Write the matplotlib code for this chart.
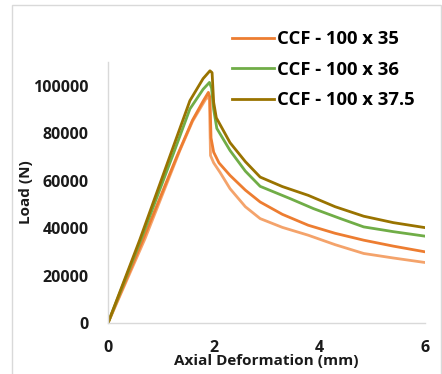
import numpy as np
import matplotlib
matplotlib.use('Agg')
from matplotlib import pyplot as plt
from matplotlib.patches import Rectangle

# values (axial deformation in mm, load in N)
x_35a = [0, 0.65, 1.3, 1.6, 1.8, 1.90, 1.93, 1.95, 2.0, 2.1, 2.31, 2.6, 2.88, 3.3, 3.79, 4.3, 4.84, 5.4, 6.0]
y_35a = [0, 34500, 70000, 85500, 93500, 97200, 95000, 78000, 72000, 67500, 62200, 56000, 51000, 45800, 41200, 37800, 34900, 32400, 30000]

x_35b = [0, 0.7, 1.36, 1.6, 1.8, 1.88, 1.92, 1.94, 2.0, 2.12, 2.31, 2.6, 2.88, 3.3, 3.79, 4.3, 4.84, 5.4, 6.0]
y_35b = [0, 35500, 72700, 85000, 92500, 95500, 94000, 70600, 67500, 63500, 56600, 49000, 44000, 40300, 37000, 33000, 29300, 27400, 25500]

x_36 = [0, 0.62, 1.24, 1.55, 1.8, 1.92, 1.96, 2.0, 2.06, 2.31, 2.6, 2.88, 3.45, 3.89, 4.4, 4.84, 5.4, 6.0]
y_36 = [0, 35000, 71500, 90200, 98500, 101400, 99000, 90000, 82000, 72700, 64000, 57600, 52400, 48200, 44000, 40500, 38500, 36600]

x_375 = [0, 0.6, 1.21, 1.55, 1.8, 1.93, 1.97, 2.0, 2.05, 2.31, 2.6, 2.88, 3.3, 3.79, 4.3, 4.84, 5.4, 6.0]
y_375 = [0, 35000, 72700, 93700, 103000, 106300, 105500, 93000, 86500, 76000, 68000, 61500, 57500, 53800, 49000, 45000, 42300, 40200]

labels = ['CCF - 100 x 35', 'CCF - 100 x 36', 'CCF - 100 x 37.5']
yticks = [0, 20000, 40000, 60000, 80000, 100000]
xticks = [0, 2, 4, 6]

plt.rcParams['font.family'] = ['Open Sans', 'DejaVu Sans']
plt.rcParams['font.weight'] = 'bold'

fig = plt.figure(figsize=(4.42, 3.74), dpi=100)
ax = fig.add_axes([108 / 442, 1 - 323 / 374, 317 / 442, 261 / 374])

# figure border
fig.patches.append(Rectangle((12 / 442, -0.01), 429 / 442, 1 - 5 / 374 + 0.01,
                             transform=fig.transFigure, fill=False,
                             edgecolor='#d9d9d9', lw=1.0))

lw = 2.0
ax.plot(x_35b, y_35b, color='#f4a36b', lw=lw, solid_joinstyle='round')
l1, = ax.plot(x_35a, y_35a, color='#ed7d31', lw=lw, solid_joinstyle='round')
l2, = ax.plot(x_36, y_36, color='#70ad47', lw=lw, solid_joinstyle='round')
l3, = ax.plot(x_375, y_375, color='#997300', lw=lw, solid_joinstyle='round')

ax.set_xlim(0, 6)
ax.set_ylim(0, 110000)
ax.set_xticks(xticks)
ax.set_yticks(yticks)
ax.set_xticklabels([str(t) for t in xticks], fontsize=11.5, fontweight='bold')
ax.set_yticklabels([str(t) for t in yticks], fontsize=11.5, fontweight='bold')
ax.tick_params(length=0, pad=14, axis='y', colors='#1a1a1a')
ax.tick_params(length=0, pad=12, axis='x', colors='#1a1a1a')

for s in ['top', 'right']:
    ax.spines[s].set_visible(False)
for s in ['left', 'bottom']:
    ax.spines[s].set_color('#d9d9d9')
    ax.spines[s].set_linewidth(1.0)

ax.set_xlabel('Axial Deformation (mm)', fontsize=11, fontweight='bold',
              color='#1a1a1a', labelpad=-1)
ax.set_ylabel('Load (N)', fontsize=11, fontweight='bold', color='#1a1a1a',
              labelpad=0)

fig.legend([l1, l2, l3], labels, loc='upper left',
           bbox_to_anchor=(232 / 442, 1 - 30 / 374), frameon=False,
           prop={'family': 'Open Sans', 'weight': 'bold', 'size': 13.3},
           handlelength=2.3, handletextpad=0.15, labelspacing=0.68,
           borderaxespad=0, borderpad=0)

fig.savefig('out.png', dpi=100)
